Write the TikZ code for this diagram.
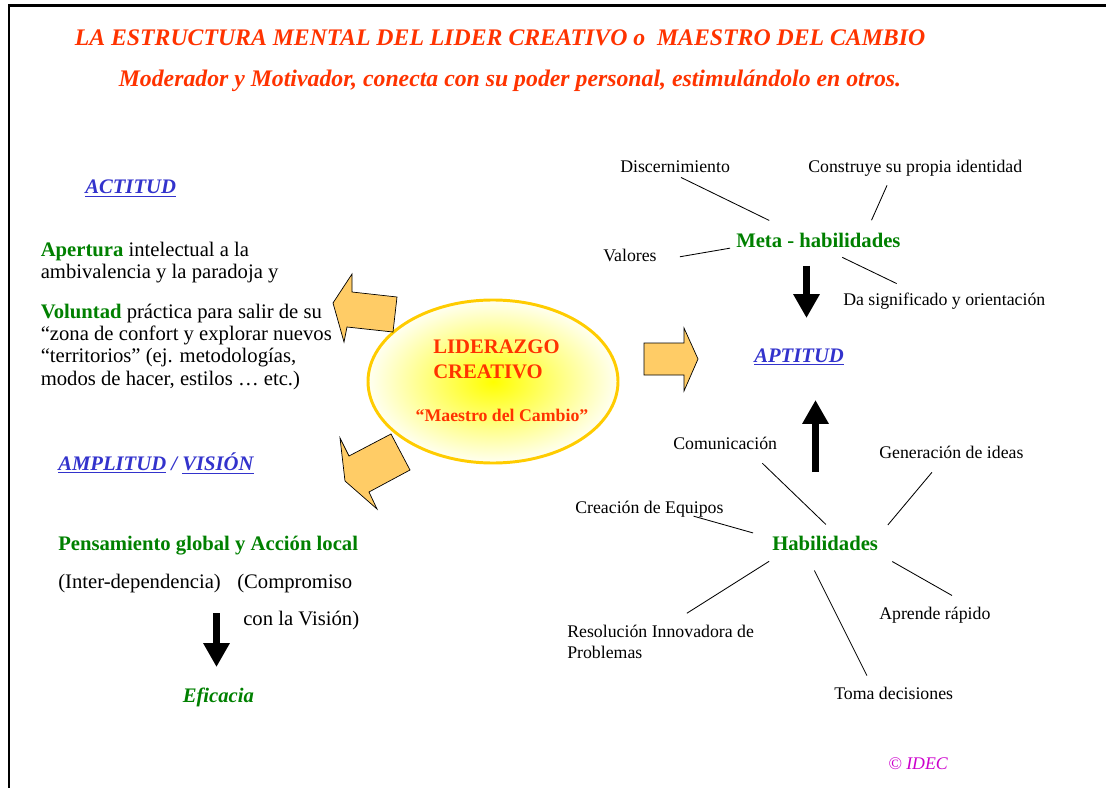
\documentclass[tikz,border=0pt]{standalone}
\usepackage{fontspec}
\setmainfont{Liberation Serif}
\usepackage{xcolor}
\usepackage{tikz}
\usetikzlibrary{arrows.meta}
\definecolor{rojo}{HTML}{FF3300}
\definecolor{azul}{HTML}{3333CC}
\definecolor{verde}{HTML}{008000}
\definecolor{naranja}{HTML}{FFCC66}
\definecolor{oro}{HTML}{FFCC00}
\definecolor{lila}{HTML}{CC00CC}

\begin{document}
\begin{tikzpicture}[x = .025cm, y = -.025cm,
  lbl/.style = {inner sep = 0pt, anchor = base west, font = \fontsize{12.65}{14.9}\selectfont},
  txt/.style = {inner sep = 0pt, anchor = base west, font = \fontsize{14.7}{15.9}\selectfont},
  hub/.style = {txt, text = verde, font = \fontsize{14.7}{15.9}\selectfont\bfseries},
  head/.style = {txt, text = azul, font = \fontsize{14.7}{15.9}\selectfont\bfseries\itshape},
  ttl/.style = {inner sep = 0pt, anchor = base, text = rojo, font = \fontsize{16.9}{20}\selectfont\bfseries\itshape},
  spoke/.style = {line width = .6pt},
  fat/.style = {line width = 5pt, -{Triangle[width = 17.8pt, length = 17pt]}},
  block/.style = {draw = black, fill = naranja, line width = .5pt}]
\useasboundingbox (0, 0) rectangle (1106, 788);
\draw [line width = 1.8pt] (9, 788) -- (9, 5.5) -- (1106, 5.5);

\node [ttl] (titulo) at (500, 46) {LA ESTRUCTURA MENTAL DEL LIDER CREATIVO o~~MAESTRO DEL CAMBIO};
\node [ttl] (subtitulo) at (510, 87) {Moderador y Motivador, conecta con su poder personal, estimulándolo en otros.};

\node [head] (actitud) at (85, 194) {\underline{ACTITUD}};
\node [txt, anchor = north west, align = left] (apertura) at (40.5, 242) {\textcolor{verde}{\textbf{Apertura}} intelectual a la\\ambivalencia y la paradoja y\\[11.9pt]\textcolor{verde}{\textbf{Voluntad}} práctica para salir de su\\“zona de confort y explorar nuevos\\“territorios” (ej. metodologías,\\modos de hacer, estilos … etc.)};

\node [head] (amplitud) at (58, 470.5) {\underline{AMPLITUD} / \underline{VISIÓN}};
\node [hub] (pensamiento) at (58, 550) {Pensamiento global y Acción local};
\node [txt] (interdep) at (58, 588) {(Inter-dependencia)};
\node [txt] (compromiso) at (237, 588) {(Compromiso};
\node [txt] (vision) at (243, 625) {con la Visión)};
\node [hub, font = \fontsize{14.7}{15.9}\selectfont\bfseries\itshape] (eficacia) at (182.5, 702) {Eficacia};
\coordinate (ef1) at (216.5, 613);
\coordinate (ef2) at (216.5, 667);
\draw [fat] (ef1) -- (ef2);

\draw [draw = oro, line width = 2.1pt, inner color = yellow, outer color = yellow!5] (493, 381.5) ellipse [x radius = 125, y radius = 81.5];
\node [txt, anchor = north west, align = left, text = rojo, font = \fontsize{14.7}{17.8}\selectfont\bfseries] (liderazgo) at (433, 340) {LIDERAZGO\\CREATIVO};
\node [lbl, anchor = base, text = rojo, font = \fontsize{12.65}{14.9}\selectfont\bfseries] (maestro) at (502, 421) {“Maestro del Cambio”};

\draw [block] (333, 303) -- (352, 274) -- (352, 292) -- (397, 297) -- (393, 332) -- (347, 327) -- (344, 342) -- cycle;
\draw [block] (340, 438) -- (349, 456) -- (391, 434) -- (410, 470) -- (369, 492) -- (377, 509) -- (345, 481) -- cycle;
\draw [block] (644, 343) -- (684, 343) -- (684, 328) -- (698, 359) -- (684, 391) -- (684, 375) -- (644, 375) -- cycle;

\node [head] (aptitud) at (754, 362.5) {\underline{APTITUD}};

\node [hub] (meta) at (736, 247) {Meta - habilidades};
\node [lbl] (disc) at (620, 172.5) {Discernimiento};
\node [lbl] (constr) at (808, 172.5) {Construye su propia identidad};
\node [lbl] (val) at (603, 262) {Valores};
\node [lbl] (dasig) at (843, 306) {Da significado y orientación};
\draw [spoke, shorten <= 19.4pt, shorten >= 7.3pt] (meta.163) -- (disc.242);
\draw [spoke, shorten <= 9.5pt, shorten >= 6.8pt] (meta.9) -- (constr.199);
\draw [spoke, shorten <= 4.3pt, shorten >= 16.6pt] (meta.185) -- (val.-10);
\draw [spoke, shorten <= 16.2pt, shorten >= 15.8pt] (meta.-66) -- (dasig.163);
\coordinate (ma1) at (806.5, 266);
\coordinate (ma2) at (806.5, 318);
\draw [fat] (ma1) -- (ma2);

\node [hub] (hab) at (772, 550) {Habilidades};
\node [lbl] (com) at (673, 449) {Comunicación};
\node [lbl] (gen) at (879, 458) {Generación de ideas};
\node [lbl] (crea) at (575, 513) {Creación de Equipos};
\node [lbl, anchor = north west, align = left] (res) at (567, 624.8) {Resolución Innovadora de\\Problemas};
\node [lbl] (aprende) at (879, 619) {Aprende rápido};
\node [lbl] (toma) at (834, 699) {Toma decisiones};
\draw [spoke, shorten <= 11.2pt, shorten >= 14.2pt] (hab.32) -- (com.-16);
\draw [spoke, shorten <= 10.6pt, shorten >= 12.9pt] (hab.7) -- (gen.220);
\draw [spoke, shorten <= 14pt, shorten >= -2.4pt] (hab.175) -- (crea.-10);
\draw [spoke, shorten <= 14.4pt, shorten >= 15.4pt] (hab.191) -- (res.65);
\draw [spoke, shorten <= 15.9pt, shorten >= 8.6pt] (hab.200) -- (toma.163);
\draw [spoke, shorten <= 15.9pt, shorten >= 15.6pt] (hab.-9) -- (aprende.13);
\coordinate (ha1) at (815.5, 472);
\coordinate (ha2) at (815.5, 400);
\draw [fat] (ha1) -- (ha2);

\node [lbl, text = lila, font = \fontsize{12.65}{14.9}\selectfont\itshape] (idec) at (888, 769) {© IDEC};
\end{tikzpicture}
\end{document}
